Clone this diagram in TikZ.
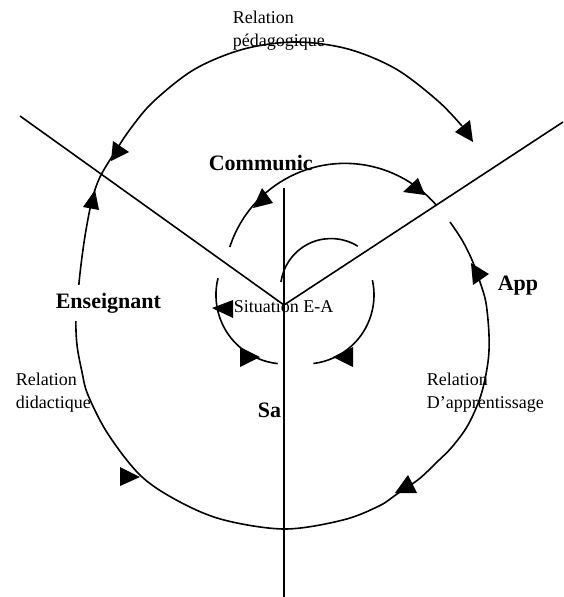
\documentclass[tikz,border=0pt]{standalone}
\usepackage{fontspec}
\setmainfont{Liberation Serif}
\usetikzlibrary{positioning}

\begin{document}
\begin{tikzpicture}[
    x=1pt, y=-1pt,
    line width=1.6pt,
    every node/.style={inner sep=0pt},
    txt/.style={font=\fontsize{18}{22.5}\selectfont, align=left},
    pole/.style={font=\fontsize{22}{26}\selectfont\bfseries},
    head/.style={fill=black}
]
\useasboundingbox (0,0) rectangle (563,597);

% the three axes
\coordinate (O) at (284,305);
\coordinate (lend) at (20,116);
\coordinate (rend) at (563,122);
\coordinate (vtop) at (284,188);
\coordinate (vbot) at (284,597);
\draw (lend) -- (O) -- (rend);
\draw (vtop) -- (vbot);

% outer loop
\draw plot[smooth, tension=0.55] coordinates {
    (462,126) (438,101) (396,69) (348,49) (296,42) (244,49) (195,69)
    (154,101) (131,128) (115,152) (100,177) (92,200) (86,230) (82,257)
    (79,283) (76,318) (77,345) (82,372) (88,395) (108,434) (141,476)
    (180,502) (224,520) (285,529) (343,520) (379,506) (397,494) (419,479)
    (437,462) (452,447) (468,425) (481,395) (488,362) (489,335) (486,303)
    (480,282) (472,260) (462,240) (450,222)};

% inner arcs
\draw (229.8,247) arc[start angle=-162, end angle=-40.6, radius=121];
\draw (218,278.3) arc[start angle=194, end angle=96, radius=69];
\draw (372.4,280.2) arc[start angle=-12.4, end angle=83, radius=69];
\draw (281,282) arc[start angle=-172, end angle=-58, radius=50.5];

% arrow heads
\fill[head] (113,141) -- (129,152) -- (111,161) -- cycle;
\fill[head] (95,190) -- (83,207) -- (99,210) -- cycle;
\fill[head] (455,132) -- (470,120) -- (473,142) -- cycle;
\fill[head] (471,263) -- (489,274) -- (473,285) -- cycle;
\fill[head] (408,475) -- (417,493) -- (395,493) -- cycle;
\fill[head] (120,467) -- (140,477) -- (120,486) -- cycle;
\fill[head] (262,188) -- (273,203) -- (253,208) -- cycle;
\fill[head] (418,178) -- (425,195) -- (403,192) -- cycle;
\fill[head] (212,308) -- (233,300) -- (233,318) -- cycle;
\fill[head] (240,347) -- (260,357) -- (240,367) -- cycle;
\fill[head] (353,347) -- (333,357) -- (353,367) -- cycle;

% labels
\node[txt, anchor=north west] (pedago) at (232,10.7) {Relation\\pédagogique};
\node[pole, anchor=base west] (commun) at (208,170) {Communic};
\node[pole, anchor=base west, fill=white, inner ysep=8pt] (enseig) at (55,308) {Enseignant};
\node[txt, anchor=base west] (situ) at (233,312) {Situation E-A};
\node[pole, anchor=base west] (app) at (497,290) {App};
\node[txt, anchor=north west] (didact) at (15,372.7) {Relation\\didactique};
\node[pole, anchor=base west] (sa) at (257,417) {Sa};
\node[txt, anchor=north west] (apprent) at (426,372.7) {Relation\\D’apprentissage};
\end{tikzpicture}
\end{document}
